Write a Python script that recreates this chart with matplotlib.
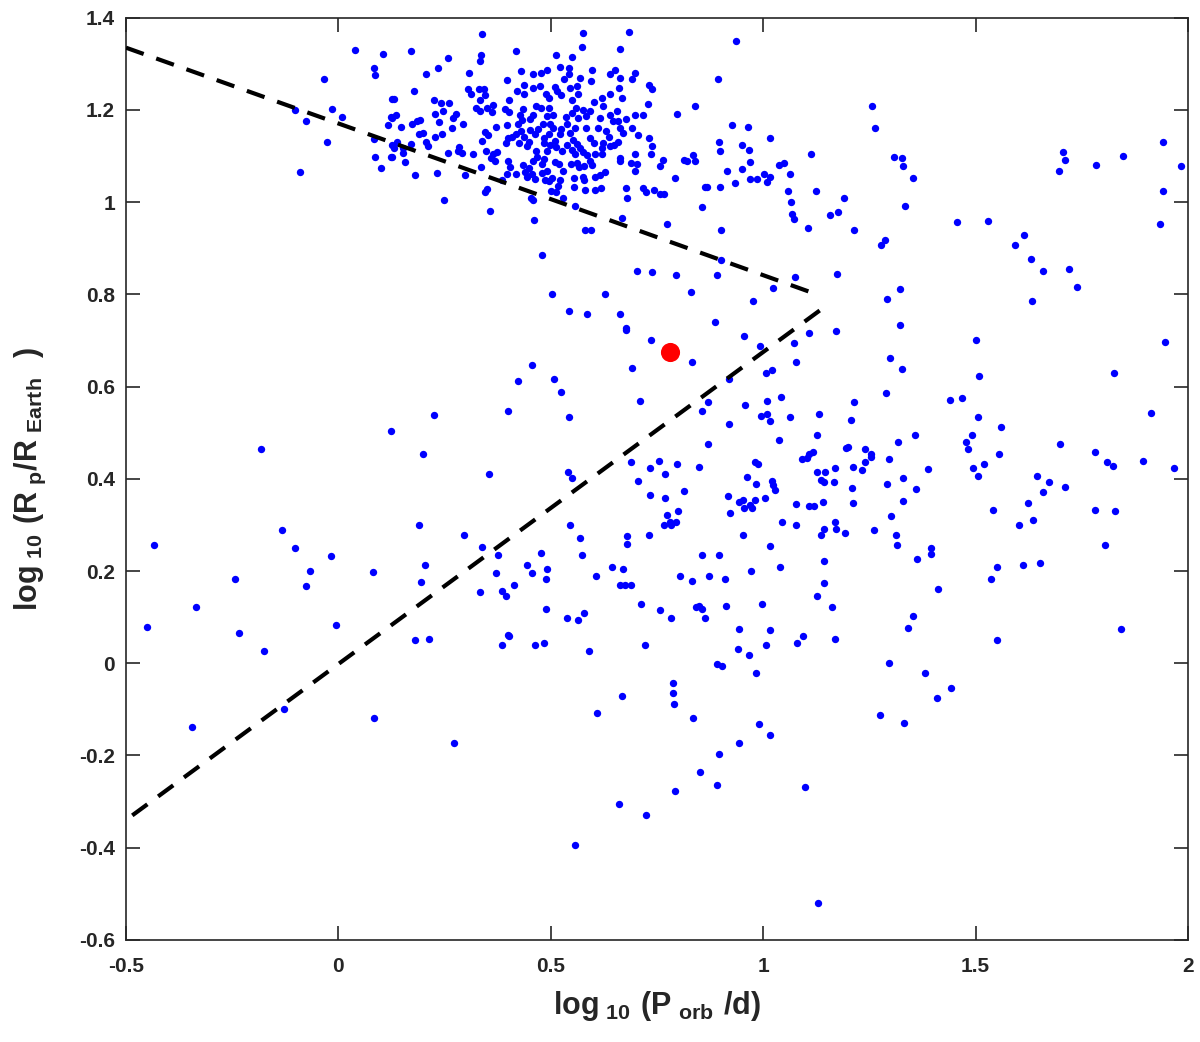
import numpy as np
import matplotlib
matplotlib.use("Agg")
import matplotlib.pyplot as plt

plt.rcParams['font.family'] = ['Liberation Sans', 'DejaVu Sans']
plt.rcParams['mathtext.fontset'] = 'custom'
plt.rcParams['mathtext.rm'] = 'Liberation Sans'
plt.rcParams['mathtext.bf'] = 'Liberation Sans:bold'

# planet sample: (log10 P_orb/d, log10 R_p/R_Earth)
planets = [
    (0.038, 1.330), (0.106, 1.322), (0.084, 1.290), (0.087, 1.276), (-0.033, 1.267),
    (0.125, 1.223), (-0.102, 1.199), (-0.014, 1.201), (-0.077, 1.177), (0.008, 1.185),
    (0.124, 1.185), (0.116, 1.168), (-0.027, 1.131), (0.083, 1.138), (0.086, 1.099),
    (0.124, 1.099), (0.100, 1.075), (-0.090, 1.066),
    (0.338, 1.365), (0.170, 1.328), (0.417, 1.328), (0.576, 1.367), (0.684, 1.370),
    (0.573, 1.336), (0.664, 1.332), (0.512, 1.320), (0.258, 1.313), (0.335, 1.320),
    (0.333, 1.307), (0.551, 1.315), (0.234, 1.292), (0.207, 1.279), (0.308, 1.281),
    (0.431, 1.284), (0.457, 1.279), (0.477, 1.281), (0.492, 1.286), (0.521, 1.293),
    (0.543, 1.290), (0.543, 1.277), (0.597, 1.286), (0.639, 1.277), (0.652, 1.286),
    (0.663, 1.270), (0.699, 1.281), (0.692, 1.268), (0.569, 1.269), (0.594, 1.263),
    (0.530, 1.266), (0.510, 1.250), (0.732, 1.255), (0.738, 1.245), (0.130, 1.223),
    (0.179, 1.242), (0.306, 1.245), (0.313, 1.235), (0.331, 1.245), (0.343, 1.246),
    (0.344, 1.232), (0.333, 1.221), (0.396, 1.264), (0.421, 1.242), (0.437, 1.253),
    (0.438, 1.235), (0.459, 1.247), (0.474, 1.251), (0.488, 1.234), (0.495, 1.225),
    (0.514, 1.242), (0.524, 1.232), (0.545, 1.247), (0.561, 1.251), (0.565, 1.235),
    (0.551, 1.221), (0.601, 1.218), (0.620, 1.226), (0.639, 1.234), (0.661, 1.247),
    (0.667, 1.226), (0.729, 1.212), (0.224, 1.222), (0.242, 1.214), (0.261, 1.216),
    (0.247, 1.198), (0.227, 1.192), (0.135, 1.190), (0.125, 1.183), (0.148, 1.164),
    (0.173, 1.169), (0.185, 1.176), (0.192, 1.179), (0.270, 1.183), (0.276, 1.192),
    (0.236, 1.173), (0.267, 1.161), (0.294, 1.170), (0.198, 1.151), (0.190, 1.147),
    (0.228, 1.141), (0.243, 1.147), (0.207, 1.131), (0.210, 1.122), (0.170, 1.127),
    (0.137, 1.131), (0.127, 1.125), (0.130, 1.118), (0.152, 1.117), (0.152, 1.106),
    (0.156, 1.088), (0.127, 1.098), (0.180, 1.059), (0.232, 1.064), (0.248, 1.005),
    (0.298, 1.059), (0.283, 1.120), (0.281, 1.111), (0.291, 1.107), (0.258, 1.106),
    (0.325, 1.205), (0.333, 1.198), (0.349, 1.205), (0.364, 1.210), (0.361, 1.195),
    (0.371, 1.164), (0.346, 1.153), (0.353, 1.146), (0.339, 1.133), (0.347, 1.112),
    (0.317, 1.105), (0.364, 1.105), (0.374, 1.108), (0.360, 1.096), (0.369, 1.089),
    (0.335, 1.076), (0.350, 1.028), (0.344, 1.023), (0.358, 0.981), (0.393, 1.202),
    (0.402, 1.196), (0.402, 1.222), (0.396, 1.167), (0.399, 1.140), (0.394, 1.128),
    (0.408, 1.141), (0.419, 1.147), (0.435, 1.203), (0.427, 1.190), (0.432, 1.178),
    (0.423, 1.170), (0.430, 1.154), (0.437, 1.141), (0.426, 1.128), (0.449, 1.131),
    (0.443, 1.122), (0.450, 1.180), (0.459, 1.190), (0.466, 1.209), (0.478, 1.205),
    (0.482, 1.169), (0.492, 1.186), (0.496, 1.205), (0.506, 1.190), (0.498, 1.170),
    (0.506, 1.161), (0.495, 1.147), (0.485, 1.140), (0.484, 1.128), (0.498, 1.125),
    (0.510, 1.133), (0.512, 1.120), (0.521, 1.147), (0.524, 1.159), (0.537, 1.169),
    (0.535, 1.185), (0.550, 1.193), (0.559, 1.205), (0.575, 1.200), (0.584, 1.187),
    (0.592, 1.198), (0.565, 1.183), (0.557, 1.161), (0.545, 1.151), (0.553, 1.134),
    (0.562, 1.127), (0.568, 1.118), (0.576, 1.108), (0.557, 1.105), (0.550, 1.114),
    (0.584, 1.161), (0.592, 1.140), (0.601, 1.128), (0.611, 1.161), (0.616, 1.183),
    (0.623, 1.208), (0.639, 1.190), (0.647, 1.176), (0.655, 1.198), (0.658, 1.176),
    (0.663, 1.161), (0.631, 1.154), (0.636, 1.141), (0.623, 1.128), (0.620, 1.118),
    (0.605, 1.105), (0.620, 1.104), (0.639, 1.122), (0.649, 1.125), (0.658, 1.131),
    (0.671, 1.150), (0.677, 1.180), (0.691, 1.161), (0.699, 1.189), (0.718, 1.190),
    (0.705, 1.146), (0.730, 1.140), (0.738, 1.122), (0.735, 1.104), (0.743, 1.027),
    (0.716, 1.031), (0.724, 1.023), (0.677, 1.031), (0.680, 1.010), (0.667, 0.966),
    (0.699, 1.104), (0.688, 1.085), (0.702, 1.082), (0.699, 1.067), (0.664, 1.096),
    (0.663, 1.089), (0.628, 1.066), (0.616, 1.059), (0.605, 1.054), (0.619, 1.030),
    (0.603, 1.027), (0.581, 1.026), (0.579, 1.049), (0.575, 1.054), (0.554, 1.053),
    (0.554, 1.033), (0.557, 0.992), (0.529, 1.010), (0.512, 1.023), (0.501, 1.024),
    (0.510, 1.088), (0.520, 1.082), (0.529, 1.068), (0.521, 1.047), (0.518, 1.034),
    (0.490, 1.068), (0.487, 1.047), (0.479, 1.063), (0.495, 1.046), (0.484, 1.094),
    (0.468, 1.099), (0.459, 1.089), (0.448, 1.075), (0.440, 1.066), (0.443, 1.054),
    (0.455, 1.060), (0.462, 1.050), (0.435, 1.080), (0.400, 1.089), (0.404, 1.076),
    (0.418, 1.060), (0.397, 1.060), (0.385, 1.049), (0.459, 1.004), (0.454, 1.010),
    (0.460, 0.961), (0.581, 0.940), (0.594, 0.940), (0.548, 1.082), (0.561, 1.085),
    (0.567, 1.076), (0.579, 1.079), (0.592, 1.089), (0.598, 1.081), (0.586, 1.102),
    (0.466, 1.111), (0.479, 1.082), (0.503, 1.053), (0.490, 1.111), (0.526, 1.111),
    (0.537, 1.125), (0.471, 1.159), (0.462, 1.148), (0.451, 1.157), (0.479, 0.885),
    (0.704, 0.851), (0.738, 0.849), (0.504, 0.800), (0.628, 0.801), (0.543, 0.763),
    (0.586, 0.758), (0.664, 0.757), (0.677, 0.728),
    (0.937, 1.349), (0.894, 1.268), (0.839, 1.208), (0.797, 1.191), (0.926, 1.168),
    (0.965, 1.164), (1.015, 1.140), (0.896, 1.130), (0.899, 1.111), (0.951, 1.124),
    (0.966, 1.114), (0.834, 1.102), (0.763, 1.092), (0.758, 1.078), (0.813, 1.092),
    (0.820, 1.089), (0.839, 1.089), (0.970, 1.086), (1.038, 1.081), (1.050, 1.084),
    (1.112, 1.104), (0.914, 1.067), (0.951, 1.071), (0.793, 1.052), (0.933, 1.041),
    (0.968, 1.050), (0.986, 1.050), (1.003, 1.060), (1.017, 1.054), (1.010, 1.044),
    (1.064, 1.060), (0.758, 1.017), (0.766, 1.018), (0.862, 1.033), (0.868, 1.033),
    (0.898, 1.033), (1.059, 1.024), (1.124, 1.024), (0.856, 0.989), (1.065, 1.000),
    (1.190, 1.010), (1.068, 0.975), (1.072, 0.963), (1.157, 0.972), (1.175, 0.978),
    (0.774, 0.953), (0.901, 0.939), (1.106, 0.945), (1.214, 0.940), (1.255, 1.209),
    (1.264, 1.161), (1.309, 1.098), (1.327, 1.096), (1.330, 1.078), (1.352, 1.052),
    (1.333, 0.992), (1.277, 0.906), (1.286, 0.917), (0.795, 0.842), (0.892, 0.843),
    (0.901, 0.874), (0.829, 0.806), (0.977, 0.785), (1.023, 0.814), (1.075, 0.837),
    (1.174, 0.845), (0.886, 0.740), (1.292, 0.790), (1.322, 0.811), (1.322, 0.733),
    (1.942, 1.130), (1.706, 1.109), (1.710, 1.092), (1.696, 1.067), (1.784, 1.080),
    (1.848, 1.100), (1.983, 1.078), (1.942, 1.024), (1.456, 0.958), (1.529, 0.959),
    (1.935, 0.953), (1.614, 0.929), (1.593, 0.908), (1.630, 0.876), (1.659, 0.851),
    (1.720, 0.856), (1.739, 0.817), (1.633, 0.786),
    (0.123, 0.503), (-0.182, 0.465), (-0.433, 0.256), (-0.133, 0.290), (-0.102, 0.250),
    (-0.017, 0.232), (-0.068, 0.200), (0.082, 0.197), (-0.243, 0.183), (-0.077, 0.167),
    (-0.335, 0.121), (-0.450, 0.078), (-0.233, 0.066), (-0.006, 0.083),
    (0.677, 0.723), (0.736, 0.700), (0.456, 0.647), (0.423, 0.613), (0.507, 0.616),
    (0.525, 0.589), (0.691, 0.640), (0.710, 0.569), (0.224, 0.538), (0.400, 0.546),
    (0.544, 0.535), (0.199, 0.454), (0.354, 0.410), (0.540, 0.414), (0.551, 0.402),
    (0.689, 0.436), (0.734, 0.424), (0.706, 0.396), (0.733, 0.364), (0.189, 0.300),
    (0.296, 0.279), (0.338, 0.253), (0.546, 0.300), (0.569, 0.272), (0.574, 0.234),
    (0.680, 0.275), (0.679, 0.259), (0.730, 0.279), (0.375, 0.234), (0.476, 0.240),
    (0.203, 0.214), (0.372, 0.196), (0.445, 0.214), (0.456, 0.196), (0.492, 0.204),
    (0.488, 0.183), (0.606, 0.190), (0.644, 0.209), (0.669, 0.205), (0.663, 0.170),
    (0.675, 0.170), (0.689, 0.170), (0.195, 0.176), (0.414, 0.170), (0.334, 0.154),
    (0.386, 0.157), (0.394, 0.145), (0.488, 0.118), (0.713, 0.129), (0.537, 0.099),
    (0.563, 0.094), (0.579, 0.108), (0.400, 0.061),
    (0.955, 0.710), (0.992, 0.689), (1.073, 0.694), (1.107, 0.716), (1.172, 0.720),
    (0.833, 0.653), (1.078, 0.654), (1.298, 0.663), (1.326, 0.639), (1.007, 0.629),
    (1.021, 0.635), (0.920, 0.616), (1.041, 0.577), (0.870, 0.567), (0.856, 0.548),
    (0.958, 0.559), (1.008, 0.569), (0.995, 0.537), (1.009, 0.541), (1.017, 0.525),
    (1.064, 0.534), (1.132, 0.541), (1.213, 0.566), (1.206, 0.527), (1.288, 0.585),
    (0.919, 0.518), (1.126, 0.496), (1.038, 0.484), (0.870, 0.476), (1.358, 0.494),
    (1.318, 0.479), (0.754, 0.439), (0.797, 0.433), (0.850, 0.426), (0.769, 0.411),
    (0.981, 0.437), (0.988, 0.433), (1.091, 0.444), (1.104, 0.446), (1.108, 0.453),
    (1.118, 0.459), (1.195, 0.466), (1.199, 0.469), (1.240, 0.465), (1.253, 0.454),
    (1.254, 0.447), (1.239, 0.436), (1.233, 0.420), (1.212, 0.426), (1.170, 0.423),
    (1.127, 0.414), (1.145, 0.414), (1.135, 0.398), (1.144, 0.392), (1.166, 0.392),
    (1.297, 0.443), (1.329, 0.402), (1.292, 0.388), (1.360, 0.378), (1.209, 0.381),
    (0.963, 0.404), (0.982, 0.388), (1.021, 0.395), (1.024, 0.386), (1.027, 0.375),
    (0.813, 0.374), (0.768, 0.358), (0.916, 0.362), (1.005, 0.359), (0.944, 0.350),
    (0.952, 0.353), (0.955, 0.337), (0.970, 0.344), (0.980, 0.353), (0.973, 0.337),
    (0.923, 0.326), (1.077, 0.345), (1.108, 0.342), (1.119, 0.342), (1.140, 0.350),
    (1.211, 0.347), (1.328, 0.351), (0.799, 0.331), (0.773, 0.321), (0.766, 0.300),
    (0.780, 0.306), (0.783, 0.300), (0.795, 0.306), (1.044, 0.306), (1.078, 0.300),
    (1.169, 0.306), (1.171, 0.291), (1.143, 0.291), (1.137, 0.279), (1.193, 0.282),
    (1.262, 0.290), (1.301, 0.319), (1.313, 0.279), (1.315, 0.256), (0.952, 0.279),
    (1.015, 0.255), (0.855, 0.234), (0.895, 0.234), (1.142, 0.222), (1.363, 0.226),
    (0.972, 0.201), (1.039, 0.208), (0.804, 0.189), (0.832, 0.179), (0.872, 0.189),
    (0.911, 0.183), (1.144, 0.173), (1.127, 0.146), (0.758, 0.116), (0.782, 0.098),
    (0.841, 0.121), (0.850, 0.125), (0.855, 0.117), (0.864, 0.098), (0.913, 0.125),
    (0.998, 0.128), (1.163, 0.121), (0.943, 0.074), (1.015, 0.071), (1.353, 0.102),
    (1.342, 0.076),
    (1.502, 0.701), (1.946, 0.696), (1.508, 0.622), (1.825, 0.629), (1.440, 0.571),
    (1.469, 0.575), (1.505, 0.535), (1.559, 0.512), (1.913, 0.543), (1.492, 0.494),
    (1.478, 0.479), (1.483, 0.465), (1.698, 0.475), (1.554, 0.453), (1.780, 0.458),
    (1.809, 0.437), (1.824, 0.428), (1.894, 0.439), (1.967, 0.424), (1.389, 0.421),
    (1.520, 0.433), (1.495, 0.423), (1.505, 0.407), (1.645, 0.406), (1.673, 0.394),
    (1.659, 0.371), (1.710, 0.382), (1.542, 0.333), (1.623, 0.348), (1.603, 0.300),
    (1.636, 0.310), (1.781, 0.333), (1.828, 0.331), (1.805, 0.256), (1.394, 0.249),
    (1.396, 0.237), (1.551, 0.208), (1.536, 0.183), (1.612, 0.214), (1.652, 0.217),
    (1.411, 0.160), (1.842, 0.075),
    (-0.175, 0.027), (-0.344, -0.138), (-0.129, -0.100), (0.084, -0.119),
    (0.180, 0.050), (0.213, 0.052), (0.401, 0.058), (0.386, 0.039), (0.463, 0.040),
    (0.484, 0.044), (0.591, 0.027), (0.721, 0.040), (0.667, -0.070), (0.609, -0.107),
    (0.272, -0.173), (0.660, -0.305), (0.725, -0.329), (0.558, -0.395),
    (1.094, 0.058), (1.168, 0.053), (1.079, 0.044), (1.007, 0.040), (0.941, 0.031),
    (0.966, 0.018), (0.892, -0.002), (0.904, -0.007), (0.984, -0.022), (1.295, 0.000),
    (0.787, -0.042), (0.787, -0.064), (0.791, -0.088), (0.835, -0.119), (1.276, -0.112),
    (1.331, -0.130), (0.991, -0.131), (1.016, -0.155), (0.942, -0.173), (0.895, -0.196),
    (0.852, -0.235), (0.891, -0.264), (0.793, -0.277), (1.098, -0.269), (1.128, -0.520),
    (1.550, 0.050), (1.382, -0.022), (1.441, -0.053), (1.410, -0.076),
]

# highlighted planet
target_x = 0.78
target_y = 0.676

# boundary lines (dashed)
upper_x = [-0.5, -0.12, 0.52, 1.12]
upper_y = [1.335, 1.21, 1.0, 0.802]
lower_x = [1.133, -0.5]
lower_y = [0.765, -0.34]

xticks = [-0.5, 0, 0.5, 1, 1.5, 2]
xticklabels = ['-0.5', '0', '0.5', '1', '1.5', '2']
yticks = [-0.6, -0.4, -0.2, 0, 0.2, 0.4, 0.6, 0.8, 1, 1.2, 1.4]
yticklabels = ['-0.6', '-0.4', '-0.2', '0', '0.2', '0.4', '0.6', '0.8', '1', '1.2', '1.4']

pts = np.array(planets)

fig = plt.figure(figsize=(12, 10.42), dpi=100)
ax = fig.add_axes([0.105, 0.098, 0.885, 0.885])

ax.scatter(pts[:, 0], pts[:, 1], s=28, color='#0000ff', linewidths=0, zorder=2)
ax.plot(upper_x, upper_y, color='black', lw=3, ls=(0, (4.5, 3.2)), zorder=3)
ax.plot(lower_x, lower_y, color='black', lw=3, ls=(0, (4.5, 3.2)), zorder=3)
ax.scatter([target_x], [target_y], s=190, color='#ff0000', linewidths=0, zorder=4)

ax.set_xlim(-0.5, 2)
ax.set_ylim(-0.6, 1.4)
ax.set_xticks(xticks)
ax.set_xticklabels(xticklabels)
ax.set_yticks(yticks)
ax.set_yticklabels(yticklabels)
ax.tick_params(axis='both', direction='in', length=10, width=1.2, top=True, right=True,
               labelsize=15, colors='#262626')
ax.tick_params(axis='x', pad=12)
ax.tick_params(axis='y', pad=8)
for lab in ax.get_xticklabels() + ax.get_yticklabels():
    lab.set_fontweight('bold')
for sp in ax.spines.values():
    sp.set_color('#262626')
    sp.set_linewidth(1.2)

ax.set_xlabel(r'$\mathbf{log_{\ 10}\ (P_{\ orb}\ /d)}$', fontsize=22, color='#262626', labelpad=10)
ax.set_ylabel(r'$\mathbf{log_{\ 10}\ (R_{\ p}/R_{\ Earth}\ \ )}$', fontsize=22, color='#262626', labelpad=22)

fig.savefig('out.png', dpi=100)
